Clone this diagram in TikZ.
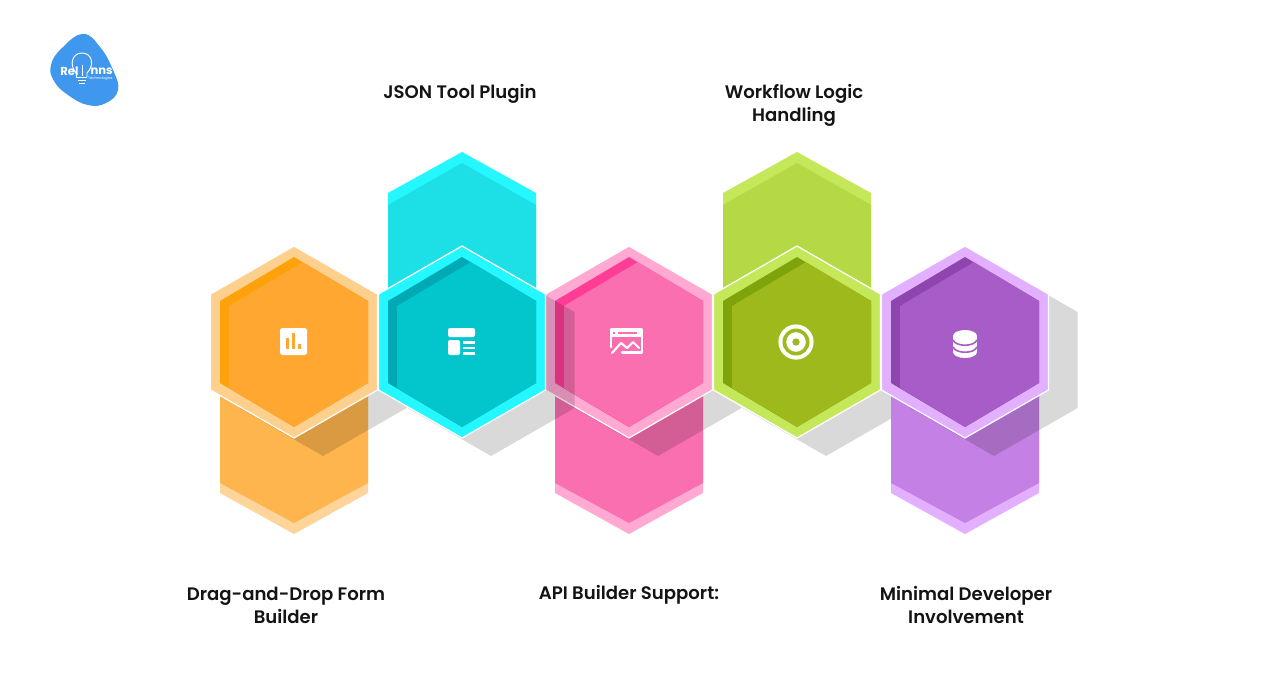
\documentclass[tikz,border=0pt]{standalone}
\usepackage{fontspec}
\setmainfont{Poppins SemiBold}
\newfontfamily\logofont{Poppins}[BoldFont={Poppins Bold}]
\definecolor{shadowgrey}{HTML}{000000}
\definecolor{logoblue}{HTML}{3F97EE}
\tikzset{
  caption/.style={font=\fontsize{10.3}{13}\selectfont, align=center, text=black!92},
  logotext/.style={text=white, inner sep=0pt},
  icon/.style={fill=white, draw=none},
  iconline/.style={draw=white, line width=1.2pt, line cap=round, line join=round},
  halo/.style={draw=white, line width=0.7pt},
  shade/.style={fill=shadowgrey, fill opacity=0.15},
}
% pointy hexagon: centre x, centre y, half width, half height, half side
\newcommand{\hexp}[5]{({#1},{#2-#4}) -- ({#1+#3},{#2-#5}) -- ({#1+#3},{#2+#5}) -- ({#1},{#2+#4}) -- ({#1-#3},{#2+#5}) -- ({#1-#3},{#2-#5}) -- cycle}
% front hexagon: x, band, dark, light
\newcommand{\mainhex}[4]{
  \filldraw[fill=#2, halo] \hexp{#1}{342}{83.5}{96}{48};
  \fill[#3] \hexp{#1}{342}{74}{85}{41};
  \begin{scope}
    \clip \hexp{#1}{342}{74}{85}{41};
    \fill[#4] \hexp{#1+9}{347}{74}{85}{41};
  \end{scope}
}
% hexagon above: x, band, body
\newcommand{\uphex}[3]{
  \fill[#2] (#1,152) -- (#1+74,193) -- (#1+74,300) -- (#1-74,300) -- (#1-74,193) -- cycle;
  \fill[#3] (#1,163) -- (#1+74,205) -- (#1+74,300) -- (#1-74,300) -- (#1-74,205) -- cycle;
}
% hexagon below: x, band, body
\newcommand{\downhex}[3]{
  \fill[#2] (#1,534) -- (#1+74,493) -- (#1+74,380) -- (#1-74,380) -- (#1-74,493) -- cycle;
  \fill[#3] (#1,523) -- (#1+74,483) -- (#1+74,380) -- (#1-74,380) -- (#1-74,483) -- cycle;
}
\newcommand{\shadowhex}[1]{\fill[shade] \hexp{#1+29}{360}{83.5}{96}{48};}
\begin{document}
\begin{tikzpicture}[x=0.02cm, y=-0.02cm]
\useasboundingbox (0,0) rectangle (1288,686);
\fill[white] (0,0) rectangle (1288,686);

% logo
\fill[logoblue] plot[smooth cycle, tension=0.75] coordinates {(83,34) (100,47) (113,70) (118,90) (106,103) (88,105) (68,95) (54,81) (51,65) (62,48)};
\draw[white, line width=0.55pt] (76,73) .. controls (69,65) and (72,53) .. (82,53) .. controls (92,53) and (95,65) .. (87,73) -- (87,77);
\draw[white, line width=0.55pt] (76,73) -- (76,77) -- (87,77);
\draw[white, line width=0.55pt] (78,80) -- (86,80) (79,83) -- (85,83) (82,65) -- (82,76);
\node[logotext, anchor=west] (logoa) at (60,71) {\logofont\bfseries\fontsize{6.6}{7}\selectfont Rel};
\node[logotext, anchor=east] (logob) at (113,71) {\logofont\bfseries\fontsize{6.6}{7}\selectfont nns};
\node[logotext, anchor=east] (logoc) at (113,79) {\logofont\fontsize{2.1}{2.5}\selectfont Technologies};

% orange
\definecolor{obackc}{HTML}{FFB54D}
\definecolor{oedgec}{HTML}{FDD49A}
\definecolor{obandc}{HTML}{FDD08E}
\definecolor{odarkc}{HTML}{FFA10A}
\definecolor{olightc}{HTML}{FFA730}
\downhex{294}{oedgec}{obackc}
\shadowhex{294}
\mainhex{294}{obandc}{odarkc}{olightc}

% pink
\definecolor{pbandc}{HTML}{FFA9D3}
\definecolor{pdarkc}{HTML}{FF3D96}
\definecolor{plightc}{HTML}{F96FB0}
\downhex{629}{pbandc}{plightc}
\shadowhex{629}
\mainhex{629}{pbandc}{pdarkc}{plightc}

% cyan
\definecolor{cbandc}{HTML}{24F7FF}
\definecolor{cbackc}{HTML}{1DE0E6}
\definecolor{cdarkc}{HTML}{00A9B3}
\definecolor{clightc}{HTML}{03C6CD}
\uphex{462}{cbandc}{cbackc}
\shadowhex{462}
\mainhex{462}{cbandc}{cdarkc}{clightc}

% green
\definecolor{gbandc}{HTML}{C5E85A}
\definecolor{gbackc}{HTML}{B5D845}
\definecolor{gdarkc}{HTML}{7FA30B}
\definecolor{glightc}{HTML}{9DB91B}
\uphex{797}{gbandc}{gbackc}
\shadowhex{797}
\mainhex{797}{gbandc}{gdarkc}{glightc}

% purple
\definecolor{ubandc}{HTML}{E3AFFF}
\definecolor{ubackc}{HTML}{C480E5}
\definecolor{udarkc}{HTML}{8E45AD}
\definecolor{ulightc}{HTML}{A85CC7}
\downhex{965}{ubandc}{ubackc}
\shadowhex{965}
\mainhex{965}{ubandc}{udarkc}{ulightc}

% icons
\fill[icon, rounded corners=1pt] (280,328) rectangle (307,355);
\fill[olightc] (286,338) rectangle (288.5,349);
\fill[olightc] (292,333) rectangle (294.5,349);
\fill[olightc] (298,344) rectangle (300.5,349);

\fill[icon, rounded corners=1.2pt] (448,328) rectangle (475,337);
\fill[icon, rounded corners=1.2pt] (448,340) rectangle (460,355);
\fill[icon] (463,341) rectangle (475,343.5);
\fill[icon] (463,346.5) rectangle (475,349);
\fill[icon] (463,352) rectangle (475,354.5);

\draw[iconline] (611,347) -- (611,329.5) -- (642,329.5) -- (642,352.5) -- (622,352.5);
\fill[icon] (611,329) rectangle (642,337);
\fill[plightc] (618,332) rectangle (637,333.5);
\fill[plightc] (613,332) rectangle (615,333.5);
\draw[iconline] (612,353) -- (621,343) -- (627,348) -- (633,342) -- (639,348);

\fill[white] (796,342) circle (17.6);
\fill[glightc] (796,342) circle (13.5);
\fill[white] (796,342) circle (9.8);
\fill[glightc] (796,342) circle (3.7);

\fill[white] (965,336) ellipse (12 and 6);
\fill[white] (953,336) rectangle (977,352);
\fill[white] (965,352) ellipse (12 and 6);
\draw[ulightc, line width=0.9pt] (953,340) .. controls (956,347) and (974,347) .. (977,340);
\draw[ulightc, line width=0.9pt] (953,347) .. controls (956,354) and (974,354) .. (977,347);

% labels
\node[caption] (jsontool) at (460,94) {JSON Tool Plugin};
\node[caption] (workflow) at (794,105) {Workflow Logic\\Handling};
\node[caption] (dragdrop) at (286,605) {Drag-and-Drop Form\\Builder};
\node[caption] (apibuild) at (629,595) {API Builder Support:};
\node[caption] (minimal) at (966,605) {Minimal Developer\\Involvement};
\end{tikzpicture}
\end{document}
